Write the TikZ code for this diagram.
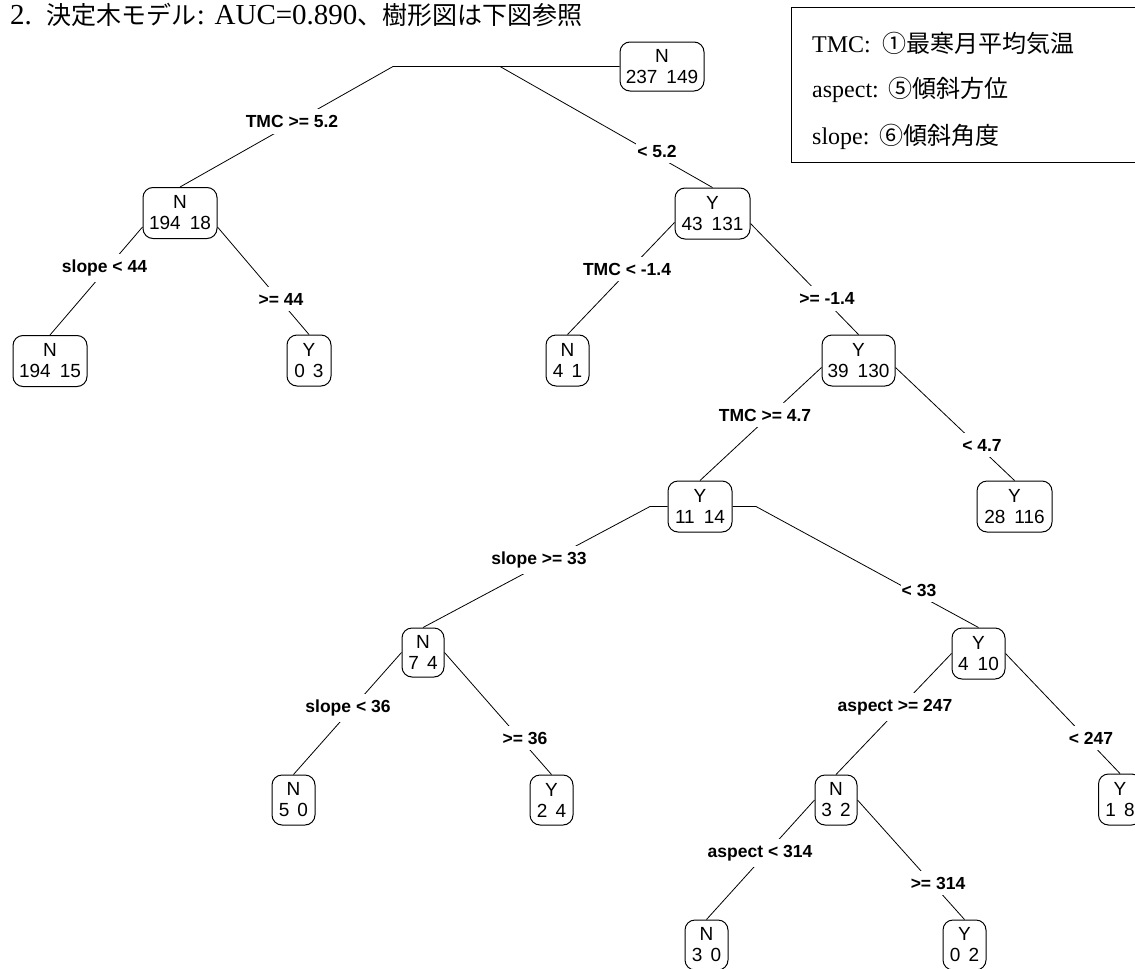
\documentclass[tikz,border=0pt]{standalone}
\usepackage{fontspec}
\setmainfont{Liberation Serif}
\newfontfamily\cjk{Noto Sans CJK JP}
\newfontfamily\arialf{Liberation Sans}
\usetikzlibrary{backgrounds}
\begin{document}
\begin{tikzpicture}[x=1pt,y=-1pt,
  treebox/.style={draw, line width=1pt, rounded corners=10pt, fill=white,
    minimum height=51pt, inner sep=0pt, align=center,
    font=\arialf\fontsize{19}{21}\selectfont},
  splitlab/.style={fill=white, inner xsep=1pt, inner ysep=6pt,
    font=\arialf\bfseries\fontsize{17.5}{20}\selectfont},
  branch/.style={line width=0.8pt},
  legtext/.style={anchor=base west, inner sep=0pt, font=\fontsize{24}{28}\selectfont}]

\useasboundingbox (0,0) rectangle (1135,969);

% title
\node[anchor=base west, inner sep=0pt, font=\fontsize{29}{32}\selectfont] (title) at (10,24)
  {2.\hspace{15pt}{\cjk\fontsize{25}{28}\selectfont 決定木モデル}: AUC=0.890{\cjk\fontsize{25}{28}\selectfont 、樹形図は下図参照}};

% legend
\node[draw, line width=1pt, fill=white, minimum width=349pt, minimum height=155pt,
  anchor=north west, inner sep=0pt] (legend) at (791,7) {};
\node[legtext] (lg1) at (812,52) {TMC:\hspace{12pt}{\cjk ①最寒月平均気温}};
\node[legtext] (lg2) at (812,97) {aspect:\hspace{10pt}{\cjk ⑤傾斜方位}};
\node[legtext] (lg3) at (812,144) {slope:\hspace{10pt}{\cjk ⑥傾斜角度}};

% tree nodes
\node[treebox, minimum width=84pt, minimum height=49pt] (n1) at (662,66.5) {N\\237\hspace{9pt}149};
\node[treebox, minimum width=74pt] (n2) at (180,213) {N\\194\hspace{9pt}18};
\node[treebox, minimum width=74pt] (n4) at (50,361) {N\\194\hspace{9pt}15};
\node[treebox, minimum width=44pt] (n5) at (309,360.5) {Y\\0\hspace{8pt}3};
\node[treebox, minimum width=75pt] (n3) at (712.5,213.5) {Y\\43\hspace{9pt}131};
\node[treebox, minimum width=43pt] (n6) at (567.5,360.5) {N\\4\hspace{8pt}1};
\node[treebox, minimum width=73pt] (n7) at (858.5,360.5) {Y\\39\hspace{9pt}130};
\node[treebox, minimum width=64pt] (n8) at (700,506.5) {Y\\11\hspace{9pt}14};
\node[treebox, minimum width=75pt] (n9) at (1014.5,506.5) {Y\\28\hspace{9pt}116};
\node[treebox, minimum width=42pt, minimum height=49pt] (n10) at (423,652.5) {N\\7\hspace{8pt}4};
\node[treebox, minimum width=53pt] (n11) at (978.5,653.5) {Y\\4\hspace{9pt}10};
\node[treebox, minimum width=43pt, minimum height=50pt] (n12) at (293.5,800) {N\\5\hspace{8pt}0};
\node[treebox, minimum width=43pt, minimum height=50pt] (n13) at (551.5,800) {Y\\2\hspace{8pt}4};
\node[treebox, minimum width=42pt, minimum height=50pt] (n14) at (836,800) {N\\3\hspace{8pt}2};
\node[treebox, minimum width=43pt] (n15) at (1120,799.5) {Y\\1\hspace{8pt}8};
\node[treebox, minimum width=43pt, minimum height=50pt] (n16) at (706.5,945) {N\\3\hspace{8pt}0};
\node[treebox, minimum width=43pt, minimum height=50pt] (n17) at (964.5,945) {Y\\0\hspace{8pt}2};

% split labels
\node[splitlab] (l1) at (292,121.5) {TMC >= 5.2};
\node[splitlab] (r1) at (657,151) {< 5.2};
\node[splitlab] (l2) at (104.5,268) {slope < 44};
\node[splitlab] (r2) at (281,299) {>= 44};
\node[splitlab] (l3) at (627,269) {TMC < -1.4};
\node[splitlab] (r3) at (827,298.5) {>= -1.4};
\node[splitlab] (l7) at (765,415) {TMC >= 4.7};
\node[splitlab] (r7) at (982,445) {< 4.7};
\node[splitlab] (l8) at (539,560) {slope >= 33};
\node[splitlab] (r8) at (919,590) {< 33};
\node[splitlab] (l10) at (348,708) {slope < 36};
\node[splitlab] (r10) at (525,738) {>= 36};
\node[splitlab] (l11) at (895,707) {aspect >= 247};
\node[splitlab] (r11) at (1091,738) {< 247};
\node[splitlab] (l14) at (760,853) {aspect < 314};
\node[splitlab] (r14) at (938,883) {>= 314};

% branch points
\coordinate (s1) at (393,66.5);
\coordinate (s2) at (500,66.5);
\coordinate (s8l) at (650,506.5);
\coordinate (s8r) at (756,506.5);

\begin{pgfonlayer}{background}
\draw[branch] (n1.west) -- (s1) -- (n2.north);
\draw[branch] (s2) -- (n3.north);
\draw[branch] ([yshift=-14pt]n2.west) -- (n4.north);
\draw[branch] ([yshift=-14pt]n2.east) -- (n5.north);
\draw[branch] ([yshift=-9pt]n3.west) -- (n6.north);
\draw[branch] ([yshift=-10pt]n3.east) -- (n7.north);
\draw[branch] ([yshift=-7pt]n7.west) -- (n8.north);
\draw[branch] ([yshift=-7pt]n7.east) -- (n9.north);
\draw[branch] (n8.west) -- (s8l) -- (n10.north);
\draw[branch] (n8.east) -- (s8r) -- (n11.north);
\draw[branch] (n10.west) -- (n12.north);
\draw[branch] (n10.east) -- (n13.north);
\draw[branch] (n11.west) -- (n14.north);
\draw[branch] (n11.east) -- (n15.north);
\draw[branch] (n14.west) -- (n16.north);
\draw[branch] (n14.east) -- (n17.north);
\end{pgfonlayer}
\end{tikzpicture}
\end{document}
